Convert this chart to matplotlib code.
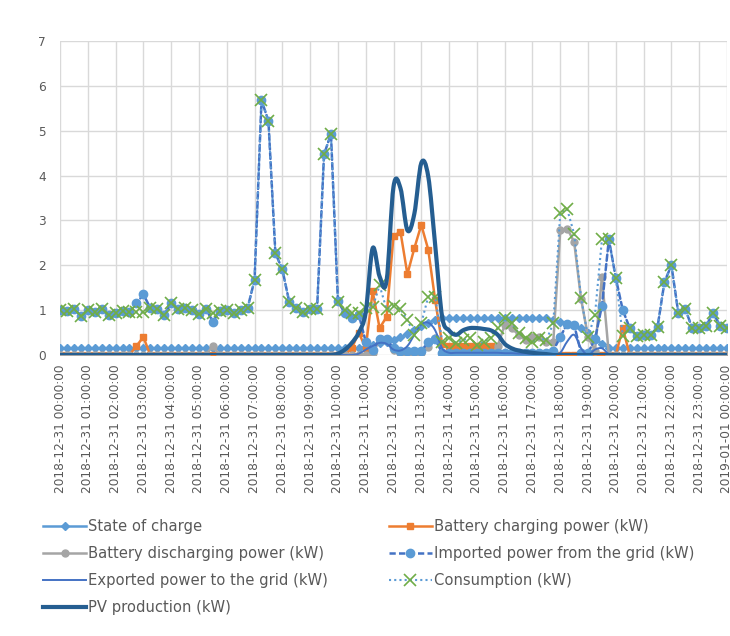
import numpy as np
import matplotlib
matplotlib.use('Agg')
from matplotlib import pyplot as plt
from matplotlib.path import Path
from matplotlib.patches import PathPatch
from matplotlib.lines import Line2D

plt.rcParams['font.family'] = ['DejaVu Sans']

# one value every 15 min, 2018-12-31 00:00 -> 2019-01-01 00:00 (97 points)
tick_labels = ["2018-12-31 %02d:00:00" % h for h in range(24)] + ["2019-01-01 00:00:00"]

soc = [
    0.15, 0.15, 0.15, 0.15,  0.15, 0.15, 0.15, 0.15,  0.15, 0.15, 0.15, 0.15,  0.15, 0.15, 0.15, 0.15,
    0.15, 0.15, 0.15, 0.15,  0.15, 0.15, 0.15, 0.15,  0.15, 0.15, 0.15, 0.15,  0.15, 0.15, 0.15, 0.15,
    0.15, 0.15, 0.15, 0.15,  0.15, 0.15, 0.15, 0.15,  0.15, 0.15, 0.15, 0.15,  0.18, 0.22, 0.26, 0.30,
    0.34, 0.40, 0.46, 0.55,  0.65, 0.72, 0.78, 0.82,  0.82, 0.82, 0.82, 0.82,  0.82, 0.82, 0.82, 0.82,
    0.82, 0.82, 0.82, 0.82,  0.82, 0.82, 0.82, 0.78,  0.73, 0.70, 0.66, 0.60,  0.50, 0.38, 0.25, 0.15,
    0.15, 0.15, 0.15, 0.15,  0.15, 0.15, 0.15, 0.15,  0.15, 0.15, 0.15, 0.15,  0.15, 0.15, 0.15, 0.15,
    0.15]

charging = [
    0, 0, 0, 0,  0, 0, 0, 0,  0, 0, 0, 0.2,  0.4, 0, 0, 0,
    0, 0, 0, 0,  0, 0, 0, 0,  0, 0, 0, 0,  0, 0, 0, 0,
    0, 0, 0, 0,  0, 0, 0, 0,  0, 0, 0.15, 0.5,  0.15, 1.42, 0.6, 0.85,
    2.65, 2.75, 1.8, 2.38,  2.9, 2.35, 1.22, 0.25,  0.2, 0.2, 0.2, 0.2,  0.2, 0.2, 0.2, 0.05,
    0, 0, 0, 0,  0, 0, 0, 0,  0, 0, 0, 0,  0, 0, 0, 0,
    0, 0.6, 0, 0,  0, 0, 0, 0,  0, 0, 0, 0,  0, 0, 0, 0,
    0]

discharging = [
    0, 0, 0, 0,  0, 0, 0, 0,  0, 0, 0, 0,  0, 0, 0, 0,
    0, 0, 0, 0,  0, 0, 0.2, 0,  0, 0, 0, 0,  0, 0, 0, 0,
    0, 0, 0, 0,  0, 0, 0, 0,  0, 0, 0, 0,  0, 0.05, 0.35, 0.35,
    0.12, 0.05, 0.02, 0.02,  0.05, 0.18, 0.38, 0.05,  0, 0, 0, 0,  0, 0, 0, 0.2,
    0.67, 0.6, 0.45, 0.33,  0.4, 0.4, 0.29, 0.3,  2.78, 2.82, 2.52, 1.25,  0.4, 0.1, 1.74, 0,
    0, 0, 0, 0,  0, 0, 0, 0,  0, 0, 0, 0,  0, 0, 0, 0,
    0]

imported = [
    1.0, 0.98, 1.02, 0.88,  1.0, 0.95, 1.02, 0.9,  0.93, 0.97, 0.95, 1.15,  1.35, 1.05, 1.02, 0.9,
    1.15, 1.02, 1.05, 1.0,  0.92, 1.03, 0.74, 0.98,  1.0, 0.93, 1.0, 1.05,  1.67, 5.68, 5.22, 2.27,
    1.91, 1.18, 1.05, 0.95,  1.02, 1.02, 4.47, 4.93,  1.2, 0.93, 0.82, 0.9,  0.3, 0.12, 0.35, 0.35,
    0.15, 0.1, 0.08, 0.08,  0.08, 0.3, 0.35, 0.05,  0.05, 0.05, 0.05, 0.05,  0.05, 0.05, 0.05, 0.05,
    0.05, 0.05, 0.05, 0.05,  0.05, 0.05, 0.05, 0.1,  0.4, 0.7, 0.67, 0.05,  0.05, 0.35, 1.1, 2.58,
    1.71, 1.0, 0.6, 0.42,  0.45, 0.45, 0.62, 1.63,  2.0, 0.93, 1.02, 0.6,  0.6, 0.65, 0.94, 0.65,
    0.6]

exported = [
    0, 0, 0, 0,  0, 0, 0, 0,  0, 0, 0, 0,  0, 0, 0, 0,
    0, 0, 0, 0,  0, 0, 0, 0,  0, 0, 0, 0,  0, 0, 0, 0,
    0, 0, 0, 0,  0, 0, 0, 0,  0, 0, 0, 0.03,  0.12, 0.2, 0.27, 0.25,
    0.12, 0.1, 0.2, 0.45,  0.68, 0.72, 0.55, 0.15,  0.05, 0.05, 0.05, 0.05,  0.05, 0.05, 0.05, 0.05,
    0.04, 0.04, 0.03, 0.03,  0.02, 0.02, 0.02, 0.02,  0.05, 0.3, 0.45, 0.15,  0.0, 0.12, 0.15, 0.02,
    0, 0, 0, 0,  0, 0, 0, 0,  0, 0, 0, 0,  0, 0, 0, 0,
    0]

consumption = [
    1.0, 0.98, 1.02, 0.88,  1.0, 0.95, 1.02, 0.9,  0.93, 0.97, 0.95, 0.95,  0.95, 1.05, 1.02, 0.9,
    1.15, 1.02, 1.05, 1.0,  0.92, 1.03, 0.93, 0.98,  1.0, 0.93, 1.0, 1.05,  1.67, 5.68, 5.22, 2.27,
    1.91, 1.18, 1.05, 0.95,  1.02, 1.02, 4.47, 4.93,  1.18, 1.0, 0.93, 0.93,  1.04, 1.07, 1.55, 1.02,
    1.09, 1.02, 0.78, 0.45,  0.71, 1.3, 1.3, 0.3,  0.38, 0.27, 0.33, 0.38,  0.22, 0.3, 0.38, 0.6,
    0.82, 0.71, 0.49, 0.38,  0.29, 0.38, 0.33, 0.71,  3.16, 3.25, 2.7, 1.27,  0.4, 0.9, 2.58, 2.58,
    1.71, 0.43, 0.6, 0.42,  0.45, 0.45, 0.62, 1.63,  2.0, 0.93, 1.02, 0.6,  0.6, 0.65, 0.94, 0.65,
    0.6]

pv = [
    0, 0, 0, 0,  0, 0, 0, 0,  0, 0, 0, 0,  0, 0, 0, 0,
    0, 0, 0, 0,  0, 0, 0, 0,  0, 0, 0, 0,  0, 0, 0, 0,
    0, 0, 0, 0,  0, 0, 0, 0,  0.03, 0.12, 0.27, 0.5,  0.95, 2.38, 1.75, 1.65,
    3.75, 3.72, 2.78, 3.15,  4.28, 3.98, 2.45, 0.85,  0.55, 0.45, 0.55, 0.6,  0.6, 0.58, 0.55, 0.45,
    0.25, 0.15, 0.1, 0.07,  0.05, 0.03, 0.02, 0,  0, 0, 0, 0,  0, 0, 0, 0,
    0, 0, 0, 0,  0, 0, 0, 0,  0, 0, 0, 0,  0, 0, 0, 0,
    0]

TXT = '#595959'
GRID = '#D9D9D9'


def smooth_path(xs, ys):
    # excel style smoothed line (catmull-rom -> bezier)
    pts = np.column_stack([xs, ys]).astype(float)
    n = len(pts)
    verts = [pts[0]]
    codes = [Path.MOVETO]
    for i in range(n - 1):
        p0 = pts[i - 1] if i > 0 else pts[i]
        p1 = pts[i]
        p2 = pts[i + 1]
        p3 = pts[i + 2] if i + 2 < n else pts[i + 1]
        verts += [p1 + (p2 - p0) / 6.0, p2 - (p3 - p1) / 6.0, p2]
        codes += [Path.CURVE4] * 3
    return Path(verts, codes)


fig = plt.figure(figsize=(7.3, 6.36), dpi=100)
ax = fig.add_axes([60 / 730, 1 - 355 / 636, 667 / 730, 314 / 636])

x = np.arange(len(soc))

ax.plot(x, soc, color='#5B9BD5', lw=1.8, marker='D', ms=4, zorder=2)
ax.plot(x, charging, color='#ED7D31', lw=1.8, marker='s', ms=5, zorder=3)
ax.plot(x, discharging, color='#A5A5A5', lw=1.8, marker='o', ms=5, zorder=4)
ax.plot(x, imported, color='#4472C4', lw=1.8, ls=(0, (2.5, 1.3)), dash_capstyle='round',
        marker='o', ms=6, mfc='#5B9BD5', mec='#5B9BD5', zorder=5)
ax.add_patch(PathPatch(smooth_path(x, exported), fill=False, ec='#4472C4', lw=1.4,
                       capstyle='round', joinstyle='round', zorder=6))
ax.plot(x, consumption, color='#5B9BD5', lw=1.5, ls=(0, (1, 1.5)),
        marker='x', ms=8, mew=1.2, mec='#70AD47', zorder=7)
ax.add_patch(PathPatch(smooth_path(x, pv), fill=False, ec='#255E91', lw=3.0,
                       capstyle='round', joinstyle='round', zorder=8))

ax.set_xlim(0, len(soc) - 1)
ax.set_ylim(0, 7)
ax.set_yticks(range(8))
ax.set_xticks(np.arange(0, len(soc), 4))
ax.set_xticklabels(tick_labels, rotation=90, va='top', ha='center')
ax.tick_params(axis='x', length=0, pad=7, labelsize=8.7, labelcolor=TXT)
ax.tick_params(axis='y', length=0, pad=10, labelsize=8.7, labelcolor=TXT)
ax.grid(True, color=GRID, lw=1)
ax.set_axisbelow(True)
for s in ax.spines.values():
    s.set_visible(False)

handles = [
    Line2D([], [], color='#5B9BD5', lw=1.8, marker='D', ms=4),
    Line2D([], [], color='#A5A5A5', lw=1.8, marker='o', ms=5),
    Line2D([], [], color='#4472C4', lw=1.4),
    Line2D([], [], color='#255E91', lw=3.0),
    Line2D([], [], color='#ED7D31', lw=1.8, marker='s', ms=5),
    Line2D([], [], color='#4472C4', lw=1.8, ls=(0, (2.5, 1.3)), marker='o', ms=6,
           mfc='#5B9BD5', mec='#5B9BD5'),
    Line2D([], [], color='#5B9BD5', lw=1.5, ls=(0, (1, 1.5)), marker='x', ms=8,
           mew=1.2, mec='#70AD47'),
]
labels = ['State of charge', 'Battery discharging power (kW)', 'Exported power to the grid (kW)',
          'PV production (kW)', 'Battery charging power (kW)', 'Imported power from the grid (kW)',
          'Consumption (kW)']
leg = fig.legend(handles, labels, ncol=2, loc='upper left', bbox_to_anchor=(43 / 730, 1 - 519 / 636),
                 frameon=False, fontsize=10.6, handlelength=2.93, handletextpad=0.15,
                 columnspacing=4.1, labelspacing=0.82, borderpad=0, borderaxespad=0)
for t in leg.get_texts():
    t.set_color(TXT)

fig.savefig('out.png', dpi=100, facecolor='white')
